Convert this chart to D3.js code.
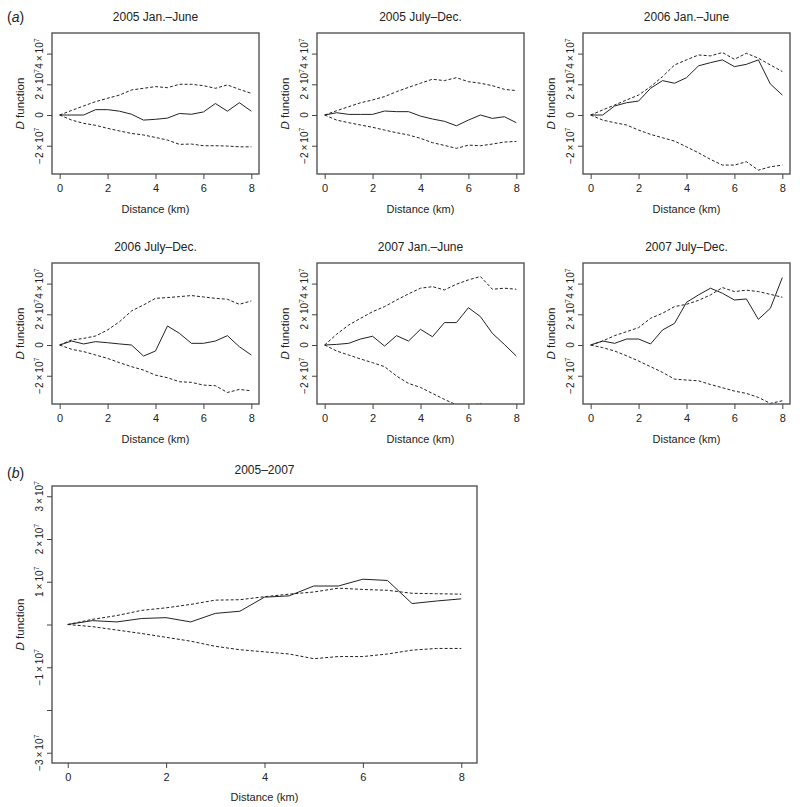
<!DOCTYPE html>
<html>
<head>
<meta charset="utf-8">
<script src="https://cdn.jsdelivr.net/npm/d3@7"></script>
<style>
  body { margin: 0; background: #fff; }
  svg { font-family: "Liberation Sans", Arial, sans-serif; }
</style>
</head>
<body>
<svg id="chart" width="800" height="807"></svg>
<script>
// distances (km) where the D function was evaluated
const distance = [0, 0.5, 1, 1.5, 2, 2.5, 3, 3.5, 4, 4.5, 5, 5.5, 6, 6.5, 7, 7.5, 8];

// all D values below are in units of 10^7
// 2005 Jan.-June
const obs05a = [0, 0, 0, 0.35, 0.35, 0.25, 0.05, -0.33, -0.28, -0.2, 0.1, 0.05, 0.2, 0.75, 0.25, 0.8, 0.25];
const hi05a  = [0, 0.3, 0.59, 0.87, 1.09, 1.3, 1.63, 1.74, 1.85, 1.78, 2.0, 2.0, 1.91, 1.74, 1.96, 1.67, 1.41];
const lo05a  = [0, -0.33, -0.54, -0.67, -0.87, -1.04, -1.2, -1.3, -1.46, -1.63, -1.91, -1.89, -2.0, -2.0, -2.02, -2.07, -2.07];
// 2005 July-Dec.
const obs05b = [0, 0.15, 0.04, 0.04, 0.04, 0.26, 0.22, 0.22, -0.07, -0.26, -0.41, -0.7, -0.33, 0, -0.22, -0.11, -0.5];
const hi05b  = [0, 0.28, 0.54, 0.8, 0.98, 1.2, 1.52, 1.8, 2.07, 2.33, 2.24, 2.43, 2.17, 2.07, 1.91, 1.67, 1.59];
const lo05b  = [0, -0.33, -0.5, -0.65, -0.8, -0.98, -1.15, -1.3, -1.52, -1.8, -1.98, -2.17, -1.96, -2.0, -1.89, -1.76, -1.72];
// 2006 Jan.-June
const obs06a = [0, 0, 0.59, 0.8, 0.91, 1.74, 2.24, 2.07, 2.43, 3.2, 3.41, 3.59, 3.15, 3.3, 3.59, 2.02, 1.3];
const hi06a  = [0, 0.33, 0.65, 0.98, 1.3, 1.85, 2.5, 3.26, 3.59, 3.91, 3.85, 4.07, 3.63, 4.02, 3.7, 3.26, 2.83];
const lo06a  = [0, -0.33, -0.5, -0.65, -0.98, -1.26, -1.48, -1.7, -2.07, -2.46, -2.89, -3.26, -3.26, -3.04, -3.59, -3.37, -3.26];
// 2006 July-Dec.
const obs06b = [0, 0.26, 0.07, 0.22, 0.15, 0.07, 0, -0.72, -0.39, 1.24, 0.76, 0.11, 0.11, 0.26, 0.61, -0.11, -0.65];
const hi06b  = [0, 0.33, 0.43, 0.59, 0.98, 1.52, 2.22, 2.61, 3.04, 3.09, 3.15, 3.22, 3.13, 3.04, 2.98, 2.65, 2.87];
const lo06b  = [0, -0.28, -0.43, -0.65, -0.87, -1.15, -1.41, -1.63, -1.96, -2.13, -2.39, -2.43, -2.61, -2.65, -3.09, -2.89, -2.98];
// 2007 Jan.-June
const obs07a = [0, 0.04, 0.11, 0.39, 0.57, -0.07, 0.61, 0.26, 1.02, 0.54, 1.46, 1.46, 2.43, 1.85, 0.76, 0.04, -0.72];
const hi07a  = [0, 0.7, 1.3, 1.74, 2.17, 2.5, 2.93, 3.33, 3.7, 3.8, 3.59, 3.96, 4.24, 4.46, 3.63, 3.7, 3.63];
const lo07a  = [0, -0.39, -0.65, -0.91, -1.15, -1.41, -2.02, -2.5, -2.76, -3.15, -3.54, -3.9, -4.0, -3.8, -4.3, -4.3, -4.4];
// 2007 July-Dec.
const obs07b = [0, 0.26, 0.11, 0.39, 0.39, 0.07, 0.98, 1.41, 2.78, 3.26, 3.7, 3.37, 2.93, 3.0, 1.67, 2.39, 4.39];
const hi07b  = [0, 0.26, 0.61, 0.87, 1.13, 1.74, 2.07, 2.5, 2.65, 2.91, 3.26, 3.74, 3.48, 3.57, 3.48, 3.3, 3.11];
const lo07b  = [0, -0.17, -0.39, -0.7, -1.04, -1.41, -1.78, -2.22, -2.28, -2.33, -2.57, -2.78, -3.0, -3.15, -3.41, -3.8, -3.63];
// 2005-2007 pooled
const obsAll = [0, 0.09, 0.06, 0.14, 0.16, 0.06, 0.26, 0.31, 0.64, 0.67, 0.9, 0.9, 1.06, 1.03, 0.49, 0.55, 0.6];
const hiAll  = [0, 0.12, 0.21, 0.33, 0.39, 0.47, 0.57, 0.58, 0.65, 0.71, 0.76, 0.85, 0.82, 0.8, 0.73, 0.72, 0.71];
const loAll  = [0, -0.05, -0.13, -0.21, -0.3, -0.39, -0.51, -0.59, -0.64, -0.69, -0.8, -0.75, -0.75, -0.69, -0.6, -0.56, -0.56];

const periods = ['2005 Jan.\u2013June', '2005 July\u2013Dec.', '2006 Jan.\u2013June',
                 '2006 July\u2013Dec.', '2007 Jan.\u2013June', '2007 July\u2013Dec.'];
const xTicks = [0, 2, 4, 6, 8];
const smallYTicks = [-2, 0, 2, 4];
const smallYLabels = ['\u22122', '0', '2', '4'];
const bigYTicks = [-3, -2, -1, 0, 1, 2, 3];
const bigYLabels = ['\u22123', '', '\u22121', '', '1', '2', '3'];

const svg = d3.select('#chart');
const ink = '#222';

// small y domain: ylim -3.5..5 (x10^7) with R's 4% padding, x: 0..8 padded
function panel(opt) {
    const g = svg.append('g');
    const x = d3.scaleLinear().domain([-0.32, 8.32]).range([opt.left, opt.left + opt.w]);
    const y = d3.scaleLinear().domain(opt.yDomain).range([opt.top + opt.h, opt.top]);

    const clipId = 'clip' + opt.id;
    svg.append('clipPath').attr('id', clipId)
        .append('rect')
        .attr('x', opt.left).attr('y', opt.top)
        .attr('width', opt.w).attr('height', opt.h);

    // lines
    const line = d3.line()
        .x((d, i) => x(distance[i]))
        .y(d => y(d));
    const lines = g.append('g').attr('clip-path', 'url(#' + clipId + ')');
    [opt.hi, opt.lo].forEach(s => {
        lines.append('path')
            .attr('d', line(s))
            .attr('fill', 'none')
            .attr('stroke', ink)
            .attr('stroke-width', 1)
            .attr('stroke-dasharray', '3,2');
    });
    lines.append('path')
        .attr('d', line(opt.obs))
        .attr('fill', 'none')
        .attr('stroke', ink)
        .attr('stroke-width', 1);

    // box
    g.append('rect')
        .attr('x', opt.left).attr('y', opt.top)
        .attr('width', opt.w).attr('height', opt.h)
        .attr('fill', 'none')
        .attr('stroke', '#555')
        .attr('stroke-width', 1.4);

    // x axis
    const xa = g.append('g')
        .attr('transform', 'translate(0,' + (opt.top + opt.h) + ')')
        .call(d3.axisBottom(x).tickValues(xTicks).tickSize(5).tickPadding(5));
    xa.select('.domain').remove();
    xa.selectAll('line').attr('stroke', '#444');
    xa.selectAll('text').attr('font-size', 11).attr('fill', ink)
        .attr('font-family', '"Liberation Sans", Arial, sans-serif');

    // y axis, labels drawn rotated like R
    const ya = g.append('g')
        .attr('transform', 'translate(' + opt.left + ',0)')
        .call(d3.axisLeft(y).tickValues(opt.yTicks).tickSize(5).tickFormat(''));
    ya.select('.domain').remove();
    ya.selectAll('line').attr('stroke', '#444');

    opt.yTicks.forEach((v, i) => {
        const lab = opt.yLabels[i];
        if (lab === '') return;
        const t = g.append('text')
            .attr('transform', 'translate(' + (opt.left - 9) + ',' + y(v) + ') rotate(-90)')
            .attr('text-anchor', 'middle')
            .attr('font-size', 10)
            .attr('fill', ink);
        if (v === 0) {
            t.text(lab);
        } else {
            t.append('tspan').text(lab + '\u2009\u00d7\u200910');
            t.append('tspan').attr('dy', -4).attr('font-size', 7).text('7');
        }
    });

    // titles
    const midX = opt.left + opt.w / 2;
    g.append('text')
        .attr('x', midX).attr('y', opt.top - 12)
        .attr('text-anchor', 'middle')
        .attr('font-size', 12)
        .attr('fill', ink)
        .text(opt.title);
    g.append('text')
        .attr('x', midX).attr('y', opt.top + opt.h + opt.xLabOff)
        .attr('text-anchor', 'middle')
        .attr('font-size', 11)
        .attr('fill', ink)
        .text('Distance (km)');
    const yl = g.append('text')
        .attr('transform', 'translate(' + (opt.left - 28) + ',' + (opt.top + opt.h / 2) + ') rotate(-90)')
        .attr('text-anchor', 'middle')
        .attr('font-size', 11.5)
        .attr('fill', ink);
    yl.append('tspan').attr('font-style', 'italic').text('D');
    yl.append('tspan').text(' function');
}

const colLeft = [52, 317, 583];
const rowTop = [33, 263];
const smallSeries = [
    [obs05a, hi05a, lo05a], [obs05b, hi05b, lo05b], [obs06a, hi06a, lo06a],
    [obs06b, hi06b, lo06b], [obs07a, hi07a, lo07a], [obs07b, hi07b, lo07b]
];

smallSeries.forEach((s, i) => {
    panel({
        id: i,
        left: colLeft[i % 3],
        top: rowTop[Math.floor(i / 3)],
        w: 207,
        h: 141,
        yDomain: [-3.84, 5.34],
        yTicks: smallYTicks,
        yLabels: smallYLabels,
        obs: s[0], hi: s[1], lo: s[2],
        title: periods[i],
        xLabOff: 39
    });
});

panel({
    id: 'all',
    left: 52,
    top: 486,
    w: 425,
    h: 277,
    yDomain: [-3.24, 3.24],
    yTicks: bigYTicks,
    yLabels: bigYLabels,
    obs: obsAll, hi: hiAll, lo: loAll,
    title: '2005\u20132007',
    xLabOff: 38
});

// panel letters
[['a', 22], ['b', 478]].forEach(p => {
    const t = svg.append('text')
        .attr('x', 7).attr('y', p[1])
        .attr('font-size', 14)
        .attr('fill', ink);
    t.append('tspan').text('(');
    t.append('tspan').attr('font-style', 'italic').text(p[0]);
    t.append('tspan').text(')');
});
</script>
</body>
</html>
